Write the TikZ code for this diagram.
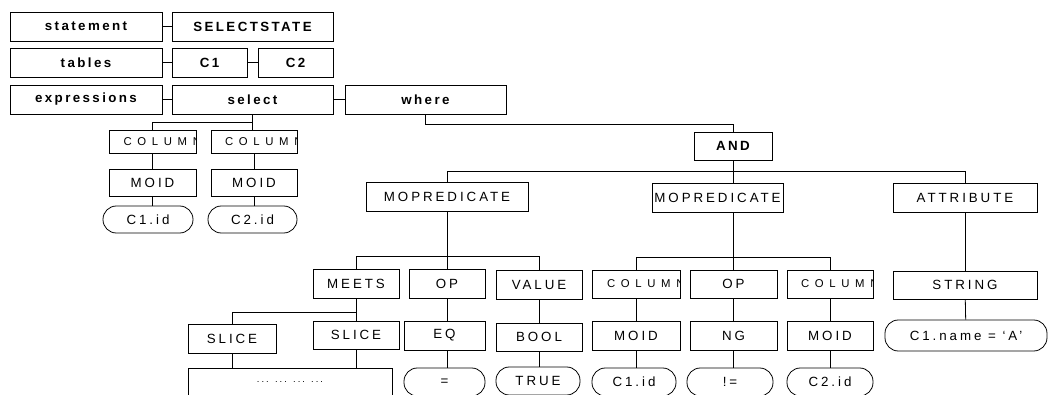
\documentclass[tikz,border=0pt]{standalone}
\usepackage{fontspec}
\newfontfamily\lblfont[LetterSpace=22]{Liberation Sans}
\newfontfamily\hdfont[LetterSpace=18]{Liberation Sans}
\newfontfamily\colfont[LetterSpace=50]{Liberation Sans}

% \placebox{style}{x1}{y1}{x2}{y2}{name}{text}: box given by its corners (px, y downwards)
\newcommand\placebox[7]{%
  \node[#1, minimum width={(#4-#2)*0.75pt}, minimum height={(#5-#3)*0.75pt}]
    (#6) at ({(#2+#4)/2},{(#3+#5)/2}) {#7};}

\tikzset{
  base/.style={draw, line width=0.6pt, inner sep=0pt, align=center},
  hd/.style={base, font=\hdfont\bfseries\fontsize{10}{11}\selectfont},
  lb/.style={base, font=\lblfont\fontsize{10}{11}\selectfont},
  pill/.style={lb, rounded corners=10pt},
  colbox/.style={base, path picture={
      \node[anchor=west, inner sep=0pt, font=\colfont\fontsize{8.5}{9}\selectfont]
        at ([xshift=7pt]path picture bounding box.west) {COLUMN};}},
  dotbox/.style={base, font=\lblfont\fontsize{7}{8}\selectfont},
  link/.style={line width=0.6pt},
}

\begin{document}
\begin{tikzpicture}[x=0.75pt, y=-0.75pt]
\fill[white] (0,0) rectangle (1051,395);
\clip (0,0) rectangle (1051,395);

% header rows
\placebox{hd}{10}{12}{162}{41}{stmt}{statement}
\placebox{hd}{172}{12}{333}{41}{selstate}{SELECTSTATE}
\placebox{hd}{10}{48}{162}{77}{tables}{tables}
\placebox{hd}{172}{48}{247}{77}{cone}{C1}
\placebox{hd}{258}{48}{333}{77}{ctwo}{C2}
\placebox{hd}{10}{85}{162}{114}{exprs}{expressions}
\placebox{hd}{172}{85}{333}{114}{select}{select}
\placebox{hd}{345}{85}{506}{114}{where}{where}

\draw[link] (stmt) -- (selstate);
\draw[link] (tables) -- (cone);
\draw[link] (cone) -- (ctwo);
\draw[link] (exprs) -- (select);
\draw[link] (select) -- (where);

% select list
\placebox{colbox}{109}{130}{196}{153}{colA}{}
\placebox{colbox}{211}{130}{297}{153}{colB}{}
\placebox{lb}{109}{169}{196}{196}{moidA}{MOID}
\placebox{lb}{211}{169}{297}{196}{moidB}{MOID}
\placebox{pill}{103}{206}{193}{233}{idA}{C1.id}
\placebox{pill}{208}{206}{297}{233}{idB}{C2.id}

\draw[link] (select.south) -- (select.south |- 0,122) -| (colA.north);
\draw[link] (select.south) -- (select.south |- colB.north);
\draw[link] (colA) -- (moidA);
\draw[link] (colB) -- (moidB);
\draw[link] (moidA.south) -- (moidA.south |- idA.north);
\draw[link] (moidB.south) -- (moidB.south |- idB.north);

% where clause
\placebox{hd}{694}{132}{772}{160}{and}{AND}
\draw[link] (where.south) -- (where.south |- 0,124) -| (and.north);

\placebox{lb}{366}{182}{528}{211}{mpA}{MOPREDICATE}
\placebox{lb}{652}{183}{783}{212}{mpB}{MOPREDICATE}
\placebox{lb}{893}{183}{1037}{212}{attr}{ATTRIBUTE}
\draw[link] (mpA.north) -- (mpA.north |- 0,171) -| (attr.north);
\draw[link] (and.south) -- (and.south |- mpB.north);

% first predicate
\placebox{lb}{313}{269}{399}{298}{meets}{MEETS}
\placebox{lb}{409}{269}{485}{298}{opA}{OP}
\placebox{lb}{496}{270}{582}{299}{value}{VALUE}
\draw[link] (meets.north) -- (meets.north |- 0,256) -| (value.north);
\draw[link] (mpA.south) -- (opA.north);

\placebox{lb}{188}{324}{276}{353}{sliceA}{SLICE}
\placebox{lb}{313}{321}{399}{349}{sliceB}{SLICE}
\placebox{lb}{404}{321}{485}{350}{eq}{EQ}
\placebox{lb}{496}{323}{582}{351}{bool}{BOOL}
\draw[link] (meets.south) -- (meets.south |- sliceB.north);
\draw[link] (sliceA.north) -- (sliceA.north |- 0,312) -- (meets.south |- 0,312);
\draw[link] (opA.south) -- (opA.south |- eq.north);
\draw[link] (value.south) -- (value.south |- bool.north);

\placebox{dotbox}{188}{368}{392}{397}{dots}{... ... ... ...}
\placebox{pill}{404}{368}{485}{396}{eqv}{=}
\placebox{pill}{496}{367}{580}{395}{truev}{TRUE}
\draw[link] (sliceA.south) -- (sliceA.south |- dots.north);
\draw[link] (sliceB.south) -- (sliceB.south |- dots.north);
\draw[link] (eq.south -| opA.south) -- (eqv.north -| opA.south);
\draw[link] (bool.south) -- (bool.south |- truev.north);

% second predicate
\placebox{colbox}{592}{270}{680}{298}{colC}{}
\placebox{lb}{690}{270}{777}{298}{opB}{OP}
\placebox{colbox}{787}{270}{873}{298}{colD}{}
\draw[link] (colC.north) -- (colC.north |- 0,257) -| (colD.north);
\draw[link] (opB.north) -- (opB.north |- mpB.south);

\placebox{lb}{592}{321}{680}{350}{moidC}{MOID}
\placebox{lb}{690}{321}{777}{350}{ng}{NG}
\placebox{lb}{787}{321}{873}{350}{moidD}{MOID}
\draw[link] (colC) -- (moidC);
\draw[link] (opB) -- (ng);
\draw[link] (colD) -- (moidD);

\placebox{pill}{592}{368}{676}{396}{idC}{C1.id}
\placebox{pill}{687}{368}{773}{396}{neq}{!=}
\placebox{pill}{787}{368}{873}{396}{idD}{C2.id}
\draw[link] (moidC.south) -- (moidC.south |- idC.north);
\draw[link] (ng.south) -- (ng.south |- neq.north);
\draw[link] (moidD) -- (idD);

% attribute
\placebox{lb}{893}{271}{1037}{299}{string}{STRING}
\placebox{pill}{885}{320}{1047}{351}{nameval}{C1.name = ‘A’}
\draw[link] (attr) -- (string);
\draw[link] (string) -- (nameval);
\end{tikzpicture}
\end{document}
